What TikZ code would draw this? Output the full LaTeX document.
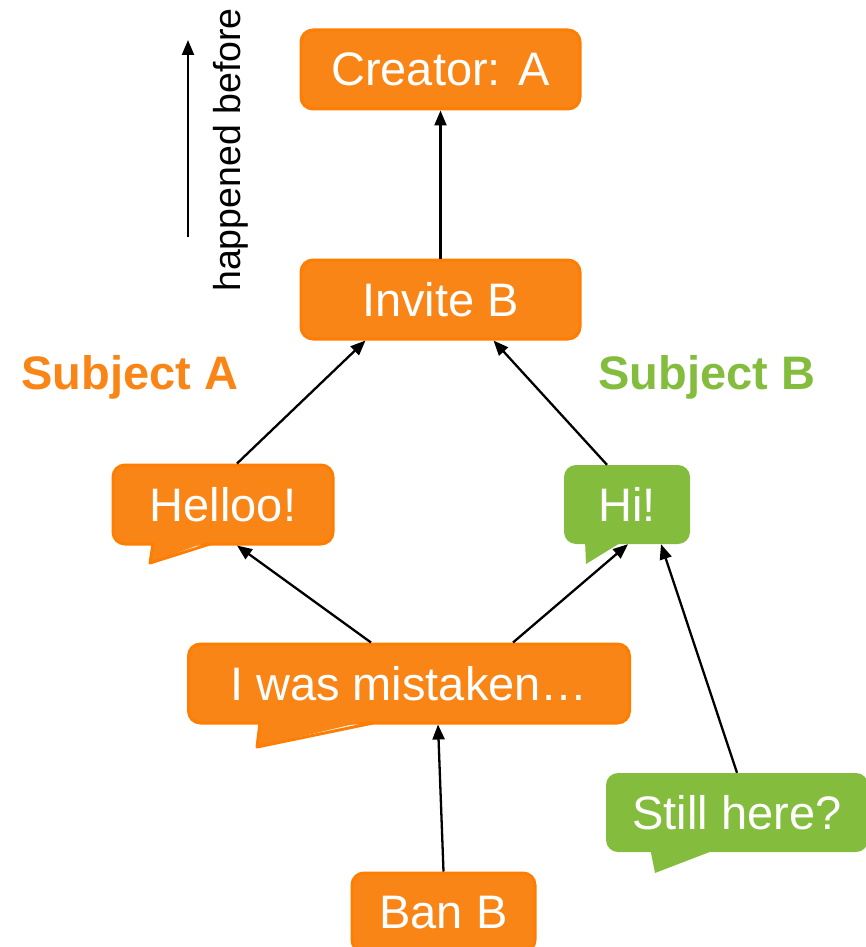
\documentclass[tikz,border=0pt]{standalone}
\usepackage{fontspec}
\setmainfont{Liberation Sans}
\usetikzlibrary{arrows.meta}
\definecolor{evorange}{HTML}{F98517}
\definecolor{evorangeline}{HTML}{FD7E02}
\definecolor{evgreen}{HTML}{84BD3E}
\tikzset{
  event/.style={rounded corners=12pt, inner sep=0pt, minimum height=79pt,
    text=white, font=\fontsize{47}{51}\selectfont},
  orangeevent/.style={event, fill=evorange, draw=evorangeline, line width=3pt},
  greenevent/.style={event, fill=evgreen},
  link/.style={line width=2.3pt, -{Triangle[length=15pt,width=12pt]}},
  subjectlabel/.style={font=\fontsize{47}{51}\selectfont\bfseries},
}
\begin{document}
\begin{tikzpicture}[x=1pt,y=-1pt]
\useasboundingbox (0,0) rectangle (865,947);

% events
\node[orangeevent, minimum width=279pt] (creator) at (440.5,69.5) {Creator: A};
\node[orangeevent, minimum width=279pt] (invite) at (440.5,299.5) {Invite B};
\node[orangeevent, minimum width=220pt] (helloo) at (223,504.5) {Helloo!};
\node[greenevent, minimum width=126pt] (hi) at (627,504.5) {Hi!};
\node[orangeevent, minimum width=441pt] (mistaken) at (409,683.5) {I was mistaken…};
\node[greenevent, minimum width=262pt] (still) at (737,812.5) {Still here?};
\node[orangeevent, minimum width=183pt] (ban) at (443.5,912.5) {Ban B};

% speech-bubble tails
\fill[evorange] (155,540) -- (150,563) -- (212,540) -- cycle;
\draw[evorangeline, line width=3pt, line join=round] (153,544) -- (150,563) -- (210,544);
\fill[evgreen] (585,540) -- (586,564) -- (625,540) -- cycle;
\fill[evorange] (261,719) -- (257,747) -- (375,719) -- cycle;
\draw[evorangeline, line width=3pt, line join=round] (260,723) -- (257,747) -- (373,723);
\fill[evgreen] (650,848) -- (655,873) -- (720,848) -- cycle;

% subject labels
\node[subjectlabel, text=evorange] (subja) at (130,377) {Subject A};
\node[subjectlabel, text=evgreen] (subjb) at (707,377) {Subject B};

% legend
\coordinate (legfrom) at (188,237);
\coordinate (legto) at (188,40);
\draw[link] (legfrom) -- (legto);
\node[rotate=90, font=\fontsize{37.5}{40}\selectfont] (legend) at (231,150) {happened before};

% happened-before links
\draw[link] (invite.north) -- (creator.south);
\draw[link] ([xshift=14pt]helloo.north) -- ([xshift=-75pt]invite.south);
\draw[link] ([xshift=-20pt]hi.north) -- ([xshift=53pt]invite.south);
\draw[link] ([xshift=-38pt]mistaken.north) -- ([xshift=14pt]helloo.south);
\draw[link] ([xshift=104pt]mistaken.north) -- ([xshift=1pt]hi.south);
\draw[link] (still.north) -- ([xshift=34pt]hi.south);
\draw[link] (ban.north) -- ([xshift=29pt]mistaken.south);
\end{tikzpicture}
\end{document}
